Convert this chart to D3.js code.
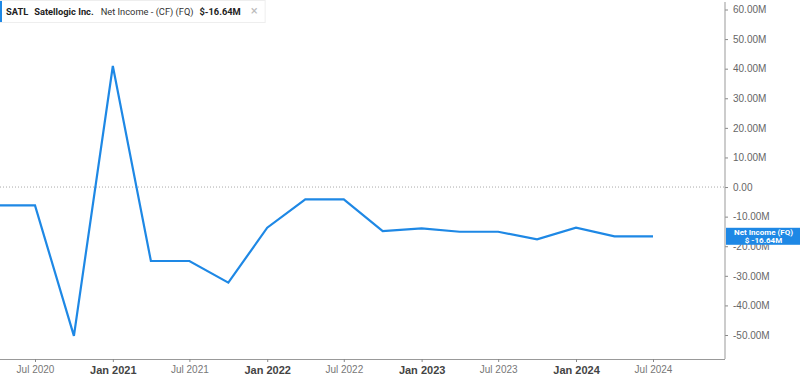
<!DOCTYPE html>
<html>
<head>
<meta charset="utf-8">
<script src="https://cdn.jsdelivr.net/npm/d3@7"></script>
<style>
  body { margin: 0; background: #fff; }
  svg { display: block; font-family: Roboto, "Noto Sans", sans-serif; }
</style>
</head>
<body>
<div id="chart"></div>
<script>
var width = 800,
    height = 380;

// quarterly net income, $M
var dates = ["2020-04-01", "2020-07-01", "2020-10-01", "2021-01-01", "2021-04-01", "2021-07-01",
    "2021-10-01", "2022-01-01", "2022-04-01", "2022-07-01", "2022-10-01", "2023-01-01",
    "2023-04-01", "2023-07-01", "2023-10-01", "2024-01-01", "2024-04-01", "2024-07-01"];
var netIncome = [-6.2, -6.2, -50.3, 40.9, -25.0, -25.0,
    -32.3, -13.75, -4.15, -4.15, -14.9, -14.0,
    -15.1, -15.1, -17.7, -13.7, -16.64, -16.64];

var yTicks = [60, 50, 40, 30, 20, 10, 0, -10, -20, -30, -40, -50];
var xTicks = ["2020-07-01", "2021-01-01", "2021-07-01", "2022-01-01", "2022-07-01",
    "2023-01-01", "2023-07-01", "2024-01-01", "2024-07-01"];

var parse = d3.timeParse("%Y-%m-%d");
var data = dates.map(function (d, i) { return { date: parse(d), value: netIncome[i] }; });

var axisX = 725,
    axisBottom = 359,
    blue = "#1e88e5";

var x = d3.scaleTime()
    .domain([parse("2020-07-01"), parse("2024-07-01")])
    .range([35, 653]);

var y = d3.scaleLinear()
    .domain([-50, 60])
    .range([335, 9.5]);

var svg = d3.select("#chart")
    .append("svg")
    .attr("width", width)
    .attr("height", height);

// clip so the line runs off the left edge
svg.append("clipPath").attr("id", "plot")
    .append("rect").attr("x", 0).attr("y", 0).attr("width", axisX).attr("height", axisBottom);

// zero line
svg.append("line")
    .attr("x1", 0).attr("x2", axisX)
    .attr("y1", y(0)).attr("y2", y(0))
    .attr("stroke", "#aaa")
    .attr("stroke-dasharray", "1,2");

// y axis on the right
var yAxis = svg.append("g")
    .attr("transform", "translate(" + axisX + ",0)")
    .call(d3.axisRight(y)
        .tickValues(yTicks)
        .tickSize(3)
        .tickPadding(5)
        .tickFormat(function (d) { return d === 0 ? "0.00" : d3.format(".2f")(d).replace("−", "-") + "M"; }));
yAxis.select(".domain").remove();
yAxis.selectAll("line").attr("stroke", "#888");
yAxis.selectAll("text")
    .attr("fill", "#666")
    .style("font-size", "10px");

svg.append("line")
    .attr("x1", axisX).attr("x2", axisX)
    .attr("y1", 2).attr("y2", axisBottom)
    .attr("stroke", "#999");

// x axis
var xAxis = svg.append("g")
    .attr("transform", "translate(0," + axisBottom + ")")
    .call(d3.axisBottom(x)
        .tickValues(xTicks.map(parse))
        .tickSize(3)
        .tickPadding(4)
        .tickFormat(d3.timeFormat("%b %Y")));
xAxis.select(".domain").attr("d", "M0,0.5H" + axisX).attr("stroke", "#999");
xAxis.selectAll("line").attr("stroke", "#888");
xAxis.selectAll("text")
    .attr("fill", function (d) { return d.getMonth() === 0 ? "#444" : "#777"; })
    .style("font-size", function (d) { return d.getMonth() === 0 ? "11px" : "10px"; })
    .style("font-weight", function (d) { return d.getMonth() === 0 ? "bold" : "normal"; });

// the series
var line = d3.line()
    .x(function (d) { return x(d.date); })
    .y(function (d) { return y(d.value); });

svg.append("path")
    .datum(data)
    .attr("clip-path", "url(#plot)")
    .attr("fill", "none")
    .attr("stroke", blue)
    .attr("stroke-width", 2.2)
    .attr("d", line);

// last value badge
var last = data[data.length - 1];
var badge = svg.append("g").attr("transform", "translate(" + (axisX + 1) + "," + (y(last.value) - 8.5) + ")");
badge.append("rect")
    .attr("width", width - axisX - 1).attr("height", 17)
    .attr("fill", blue);
badge.append("text")
    .attr("x", (width - axisX) / 2).attr("y", 7.5)
    .attr("text-anchor", "middle")
    .attr("fill", "#fff")
    .style("font-size", "8px").style("font-weight", "bold")
    .text("Net Income (FQ)");
badge.append("text")
    .attr("x", (width - axisX) / 2).attr("y", 15.5)
    .attr("text-anchor", "middle")
    .attr("fill", "#fff")
    .style("font-size", "8px").style("font-weight", "bold")
    .text("$ " + last.value.toFixed(2) + "M");

// legend
var legend = svg.append("g");
var legendBox = legend.append("rect")
    .attr("x", 0.5).attr("y", 0.5).attr("height", 22)
    .attr("fill", "#fff").attr("stroke", "#eee");
legend.append("rect")
    .attr("x", 0).attr("y", 1).attr("width", 2).attr("height", 21)
    .attr("fill", blue);
var legendItems = [
    { text: "SATL", bold: true, color: "#222", gap: 6 },
    { text: "Satellogic Inc.", bold: true, color: "#222", gap: 6 },
    { text: "Net Income - (CF) (FQ)", bold: false, color: "#333", gap: 7 },
    { text: "$-16.64M", bold: true, color: "#222", gap: 6 },
    { text: "\u00d7", bold: false, color: "#bbb", gap: 10 }
];
var cx = 0;
legend.selectAll("text.item")
    .data(legendItems)
    .enter()
    .append("text")
    .attr("class", "item")
    .attr("y", 15)
    .attr("fill", function (d) { return d.color; })
    .style("font-size", function (d) { return d.text === "\u00d7" ? "13px" : "9.3px"; })
    .style("font-weight", function (d) { return d.bold ? "bold" : "normal"; })
    .text(function (d) { return d.text; })
    .each(function (d) {
        cx += d.gap;
        d3.select(this).attr("x", cx);
        cx += this.getComputedTextLength();
    });
legendBox.attr("width", cx + 7);
</script>
</body>
</html>
